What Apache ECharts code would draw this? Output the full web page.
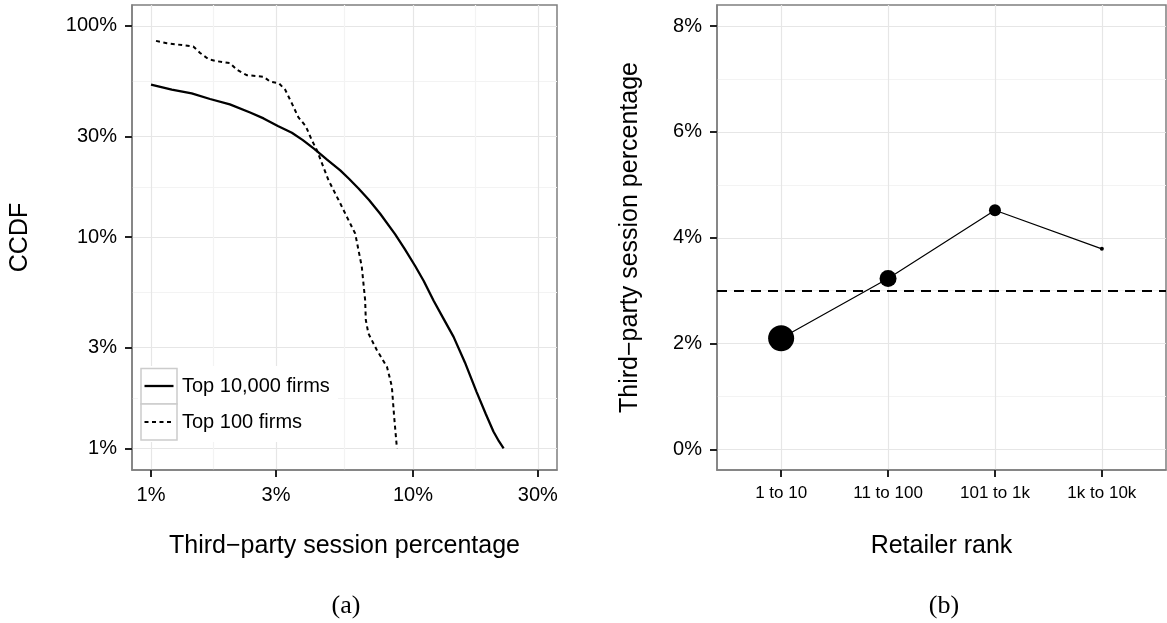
<!DOCTYPE html>
<html>
<head>
<meta charset="utf-8">
<script src="https://cdn.jsdelivr.net/npm/echarts@6/dist/echarts.min.js"></script>
<style>
html,body{margin:0;padding:0;background:#fff;}
#chart{width:1167px;height:623px;}
</style>
</head>
<body>
<div id="chart"></div>
<script>
// ---------- Data ----------
// Panel (a): CCDF of third-party session percentage (values in %)
const xTicksA = [1, 3, 10, 30];
const xMinorA = [1.732, 5.477, 17.32];
const yTicksA = [1, 3, 10, 30, 100];
const yMinorA = [1.732, 5.477, 17.32, 54.77];

const top10000X = [1.0, 1.2, 1.43, 1.68, 2.0, 2.39, 2.69, 3.05, 3.45, 3.8, 4.2, 4.7, 5.28, 5.7, 6.2, 6.8, 7.5, 8.56, 9.3, 10.2, 11.0, 12.0, 13.1, 14.3, 15.8, 17.5, 19.0, 20.3, 21.3, 22.2];
const top10000Y = [52.8, 50.0, 47.9, 45.1, 42.5, 38.9, 36.5, 33.6, 31.2, 28.8, 26.2, 23.3, 20.7, 18.9, 17.0, 15.0, 12.9, 10.3, 8.8, 7.3, 6.2, 5.0, 4.1, 3.37, 2.55, 1.85, 1.45, 1.2, 1.08, 1.0];

const top100X = [1.045, 1.15, 1.45, 1.54, 1.66, 1.8, 2.0, 2.13, 2.32, 2.69, 2.85, 3.08, 3.25, 3.45, 3.65, 3.9, 4.1, 4.3, 4.76, 5.2, 5.76, 6.02, 6.38, 6.57, 6.61, 6.76, 7.28, 7.96, 8.14, 8.31, 8.48, 8.69];
const top100Y = [85, 82.8, 80, 74.5, 69.5, 68, 66.8, 62, 58.5, 57.5, 54.5, 53.5, 50, 43, 37, 33.5, 29, 25.8, 18.6, 15, 11.6, 10.4, 7.24, 5.03, 4.05, 3.5, 2.92, 2.43, 2.18, 1.96, 1.41, 1.0];

const seriesNamesA = ['Top 10,000 firms', 'Top 100 firms'];

// Panel (b): third-party session percentage by retailer rank
const rankCategories = ['1 to 10', '11 to 100', '101 to 1k', '1k to 10k'];
const rankValues = [2.1, 3.23, 4.52, 3.79];
const rankPointSize = [26, 17, 12, 4];
const overallAverage = 3.0;
const yTicksB = [0, 2, 4, 6, 8];
const yMinorB = [1, 3, 5, 7];

// ---------- Styling ----------
const FONT = 'Liberation Sans, Arial, Helvetica, sans-serif';
const TICK_FS = 20;
const TITLE_FS = 25;
const MAJOR = '#e6e6e6';
const MINOR = '#f3f3f3';

function zip(a, b) { return a.map((v, i) => [v, b[i]]); }
function pct(v) { return Math.round(v) + '%'; }

const baseAxis = {
  axisLine: { show: true, onZero: false, lineStyle: { color: '#7f7f7f', width: 1.5 } },
  axisTick: { show: true, length: 7, lineStyle: { color: '#222', width: 2 } },
  axisLabel: { fontFamily: FONT, fontSize: TICK_FS, color: '#000', margin: 15 },
  splitLine: { show: true, lineStyle: { color: MAJOR, width: 1.2 } },
  nameTextStyle: { fontFamily: FONT, fontSize: TITLE_FS, color: '#000' },
  nameLocation: 'middle'
};
function minorAxis(extra) {
  return Object.assign({
    axisLine: { show: false, onZero: false },
    axisLabel: { show: false },
    splitLine: { show: true, lineStyle: { color: MINOR, width: 1.2 } }
  }, extra);
}

const chart = echarts.init(document.getElementById('chart'), null, { renderer: 'canvas' });

const option = {
  animation: false,
  backgroundColor: '#fff',
  grid: [
    { left: 132, top: 5, width: 425, height: 465, show: true, borderColor: '#7f7f7f', borderWidth: 1.5, backgroundColor: 'transparent', containLabel: false },
    { left: 717, top: 5, width: 449, height: 465, show: true, borderColor: '#7f7f7f', borderWidth: 1.5, backgroundColor: 'transparent', containLabel: false }
  ],
  xAxis: [
    minorAxis({ gridIndex: 0, type: 'log', logBase: 10, min: 0.846, max: 35.5, position: 'bottom',
      axisTick: { show: false, customValues: xMinorA } }),
    Object.assign({}, baseAxis, {
      gridIndex: 0, type: 'log', logBase: 10, min: 0.846, max: 35.5, position: 'bottom',
      axisTick: Object.assign({}, baseAxis.axisTick, { customValues: xTicksA }),
      axisLabel: Object.assign({}, baseAxis.axisLabel, { customValues: xTicksA, formatter: pct }),
      name: 'Third\u2212party session percentage', nameGap: 64
    }),
    Object.assign({}, baseAxis, {
      gridIndex: 1, type: 'value', min: -0.6, max: 3.6, position: 'bottom',
      axisTick: Object.assign({}, baseAxis.axisTick, { customValues: [0, 1, 2, 3] }),
      axisLabel: Object.assign({}, baseAxis.axisLabel, { customValues: [0, 1, 2, 3], fontSize: 17,
        formatter: v => rankCategories[Math.round(v)] }),
      name: 'Retailer rank', nameGap: 64
    })
  ],
  yAxis: [
    minorAxis({ gridIndex: 0, type: 'log', logBase: 10, min: 0.789, max: 125.7, position: 'left',
      axisTick: { show: false, customValues: yMinorA } }),
    Object.assign({}, baseAxis, {
      gridIndex: 0, type: 'log', logBase: 10, min: 0.789, max: 125.7, position: 'left',
      axisTick: Object.assign({}, baseAxis.axisTick, { customValues: yTicksA }),
      axisLabel: Object.assign({}, baseAxis.axisLabel, { customValues: yTicksA, formatter: pct }),
      name: 'CCDF', nameRotate: 90, nameGap: 99
    }),
    minorAxis({ gridIndex: 1, type: 'value', min: -0.39, max: 8.4, position: 'left',
      axisTick: { show: false, customValues: yMinorB } }),
    Object.assign({}, baseAxis, {
      gridIndex: 1, type: 'value', min: -0.39, max: 8.4, position: 'left',
      axisTick: Object.assign({}, baseAxis.axisTick, { customValues: yTicksB }),
      axisLabel: Object.assign({}, baseAxis.axisLabel, { customValues: yTicksB, formatter: v => Math.round(v) + '%' }),
      name: 'Third\u2212party session percentage', nameRotate: 90, nameGap: 74
    })
  ],
  series: [
    {
      name: seriesNamesA[0], type: 'line', xAxisIndex: 1, yAxisIndex: 1,
      data: zip(top10000X, top10000Y), symbol: 'none', smooth: false,
      lineStyle: { color: '#000', width: 2.3, type: 'solid' }, silent: true
    },
    {
      name: seriesNamesA[1], type: 'line', xAxisIndex: 1, yAxisIndex: 1,
      data: zip(top100X, top100Y), symbol: 'none', smooth: false,
      lineStyle: { color: '#000', width: 2, type: [4, 3.5] }, silent: true
    },
    {
      type: 'line', xAxisIndex: 2, yAxisIndex: 3,
      data: rankValues.map((v, i) => [i, v]),
      symbol: 'circle', showSymbol: true,
      symbolSize: (val, params) => rankPointSize[params.dataIndex],
      itemStyle: { color: '#000' },
      lineStyle: { color: '#000', width: 1.2 },
      silent: true,
      markLine: {
        silent: true, symbol: ['none', 'none'], label: { show: false },
        lineStyle: { color: '#000', width: 2, type: [10, 7] },
        data: [{ yAxis: overallAverage }]
      }
    }
  ],
  graphic: [
    // legend for panel (a)
    { type: 'rect', shape: { x: 138, y: 366, width: 200, height: 76 }, style: { fill: '#fff' }, z: 50 },
    { type: 'rect', shape: { x: 141, y: 368.5, width: 36, height: 35.5 }, style: { fill: '#fff', stroke: '#cccccc', lineWidth: 1.5 }, z: 51 },
    { type: 'rect', shape: { x: 141, y: 404, width: 36, height: 36 }, style: { fill: '#fff', stroke: '#cccccc', lineWidth: 1.5 }, z: 51 },
    { type: 'line', shape: { x1: 144.5, y1: 386, x2: 173.5, y2: 386 }, style: { stroke: '#000', lineWidth: 2.3 }, z: 52 },
    { type: 'line', shape: { x1: 144.5, y1: 422, x2: 173.5, y2: 422 }, style: { stroke: '#000', lineWidth: 2, lineDash: [4, 3.5] }, z: 52 },
    { type: 'text', x: 182, y: 386, style: { text: seriesNamesA[0], fontFamily: FONT, fontSize: TICK_FS, fill: '#000', verticalAlign: 'middle', align: 'left' }, z: 52 },
    { type: 'text', x: 182, y: 422, style: { text: seriesNamesA[1], fontFamily: FONT, fontSize: TICK_FS, fill: '#000', verticalAlign: 'middle', align: 'left' }, z: 52 },
    // sub-figure captions
    { type: 'text', x: 346, y: 606, style: { text: '(a)', fontFamily: 'Liberation Serif, DejaVu Serif, serif', fontSize: 26, fill: '#000', align: 'center', verticalAlign: 'middle' } },
    { type: 'text', x: 944, y: 606, style: { text: '(b)', fontFamily: 'Liberation Serif, DejaVu Serif, serif', fontSize: 26, fill: '#000', align: 'center', verticalAlign: 'middle' } }
  ]
};

chart.setOption(option);
</script>
</body>
</html>
